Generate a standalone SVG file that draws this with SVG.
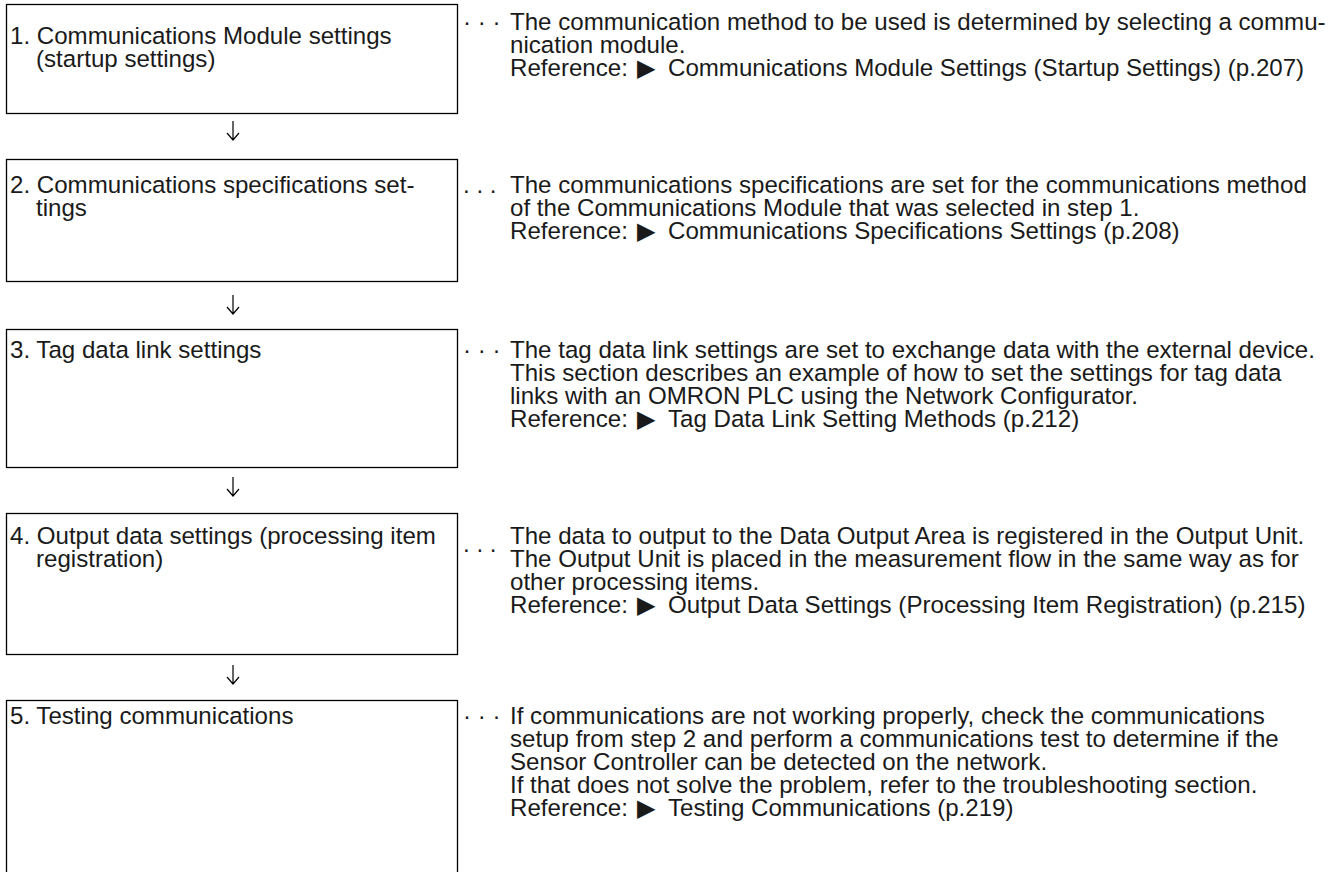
<svg xmlns="http://www.w3.org/2000/svg" width="1331" height="872" viewBox="0 0 1331 872">
<style>
  .box { fill: #ffffff; stroke: #000000; stroke-width: 1.3; }
  .t { font-family: "Liberation Sans", Arial, sans-serif; font-size: 24.1px; fill: #1a1a1a; }
  .sym { font-family: "DejaVu Sans", sans-serif; font-size: 24px; fill: #1a1a1a; }
  .arrow { fill: none; stroke: #000000; stroke-width: 1.2; }
</style>
<rect width="1331" height="872" fill="#ffffff"/>

<g id="step1">
  <rect class="box" x="6.5" y="4.5" width="451" height="109"/>
  <text class="t" x="10" y="44">1. Communications Module settings</text>
  <text class="t" x="36" y="67">(startup settings)</text>
</g>
<g id="desc1">
  <text class="t" x="463" y="30">· · ·</text>
  <text class="t" x="510" y="30">The communication method to be used is determined by selecting a commu-</text>
  <text class="t" x="510" y="53">nication module.</text>
  <text class="t" x="510" y="76">Reference:<tspan class="sym" x="637">▶</tspan><tspan x="668">Communications Module Settings (Startup Settings) (p.207)</tspan></text>
</g>

<g id="step2">
  <rect class="box" x="6.5" y="159.5" width="451" height="122"/>
  <text class="t" x="10" y="193">2. Communications specifications set-</text>
  <text class="t" x="36" y="216">tings</text>
</g>
<g id="desc2">
  <text class="t" x="463" y="193">. . .</text>
  <text class="t" x="510" y="193">The communications specifications are set for the communications method</text>
  <text class="t" x="510" y="216">of the Communications Module that was selected in step 1.</text>
  <text class="t" x="510" y="239">Reference:<tspan class="sym" x="637">▶</tspan><tspan x="668">Communications Specifications Settings (p.208)</tspan></text>
</g>

<g id="step3">
  <rect class="box" x="6.5" y="329.5" width="451" height="138"/>
  <text class="t" x="10" y="358">3. Tag data link settings</text>
</g>
<g id="desc3">
  <text class="t" x="463" y="358">· · ·</text>
  <text class="t" x="510" y="358">The tag data link settings are set to exchange data with the external device.</text>
  <text class="t" x="510" y="381">This section describes an example of how to set the settings for tag data</text>
  <text class="t" x="510" y="404">links with an OMRON PLC using the Network Configurator.</text>
  <text class="t" x="510" y="427">Reference:<tspan class="sym" x="637">▶</tspan><tspan x="668">Tag Data Link Setting Methods (p.212)</tspan></text>
</g>

<g id="step4">
  <rect class="box" x="6.5" y="513.5" width="451" height="141"/>
  <text class="t" x="10" y="544">4. Output data settings (processing item</text>
  <text class="t" x="36" y="567">registration)</text>
</g>
<g id="desc4">
  <text class="t" x="463" y="552">. . .</text>
  <text class="t" x="510" y="544">The data to output to the Data Output Area is registered in the Output Unit.</text>
  <text class="t" x="510" y="567">The Output Unit is placed in the measurement flow in the same way as for</text>
  <text class="t" x="510" y="590">other processing items.</text>
  <text class="t" x="510" y="613">Reference:<tspan class="sym" x="637">▶</tspan><tspan x="668">Output Data Settings (Processing Item Registration) (p.215)</tspan></text>
</g>

<g id="step5">
  <rect class="box" x="6.5" y="700.5" width="451" height="180"/>
  <text class="t" x="10" y="724">5. Testing communications</text>
</g>
<g id="desc5">
  <text class="t" x="463" y="724">· · ·</text>
  <text class="t" x="510" y="724">If communications are not working properly, check the communications</text>
  <text class="t" x="510" y="747">setup from step 2 and perform a communications test to determine if the</text>
  <text class="t" x="510" y="770">Sensor Controller can be detected on the network.</text>
  <text class="t" x="510" y="793">If that does not solve the problem, refer to the troubleshooting section.</text>
  <text class="t" x="510" y="816">Reference:<tspan class="sym" x="637">▶</tspan><tspan x="668">Testing Communications (p.219)</tspan></text>
</g>

<g id="connectors">
  <path class="arrow" d="M233 121 V140 M227 133 L233 140 L239 133"/>
  <path class="arrow" d="M233 295 V314 M227 307 L233 314 L239 307"/>
  <path class="arrow" d="M233 477 V496 M227 489 L233 496 L239 489"/>
  <path class="arrow" d="M233 665 V684 M227 677 L233 684 L239 677"/>
</g>
</svg>
